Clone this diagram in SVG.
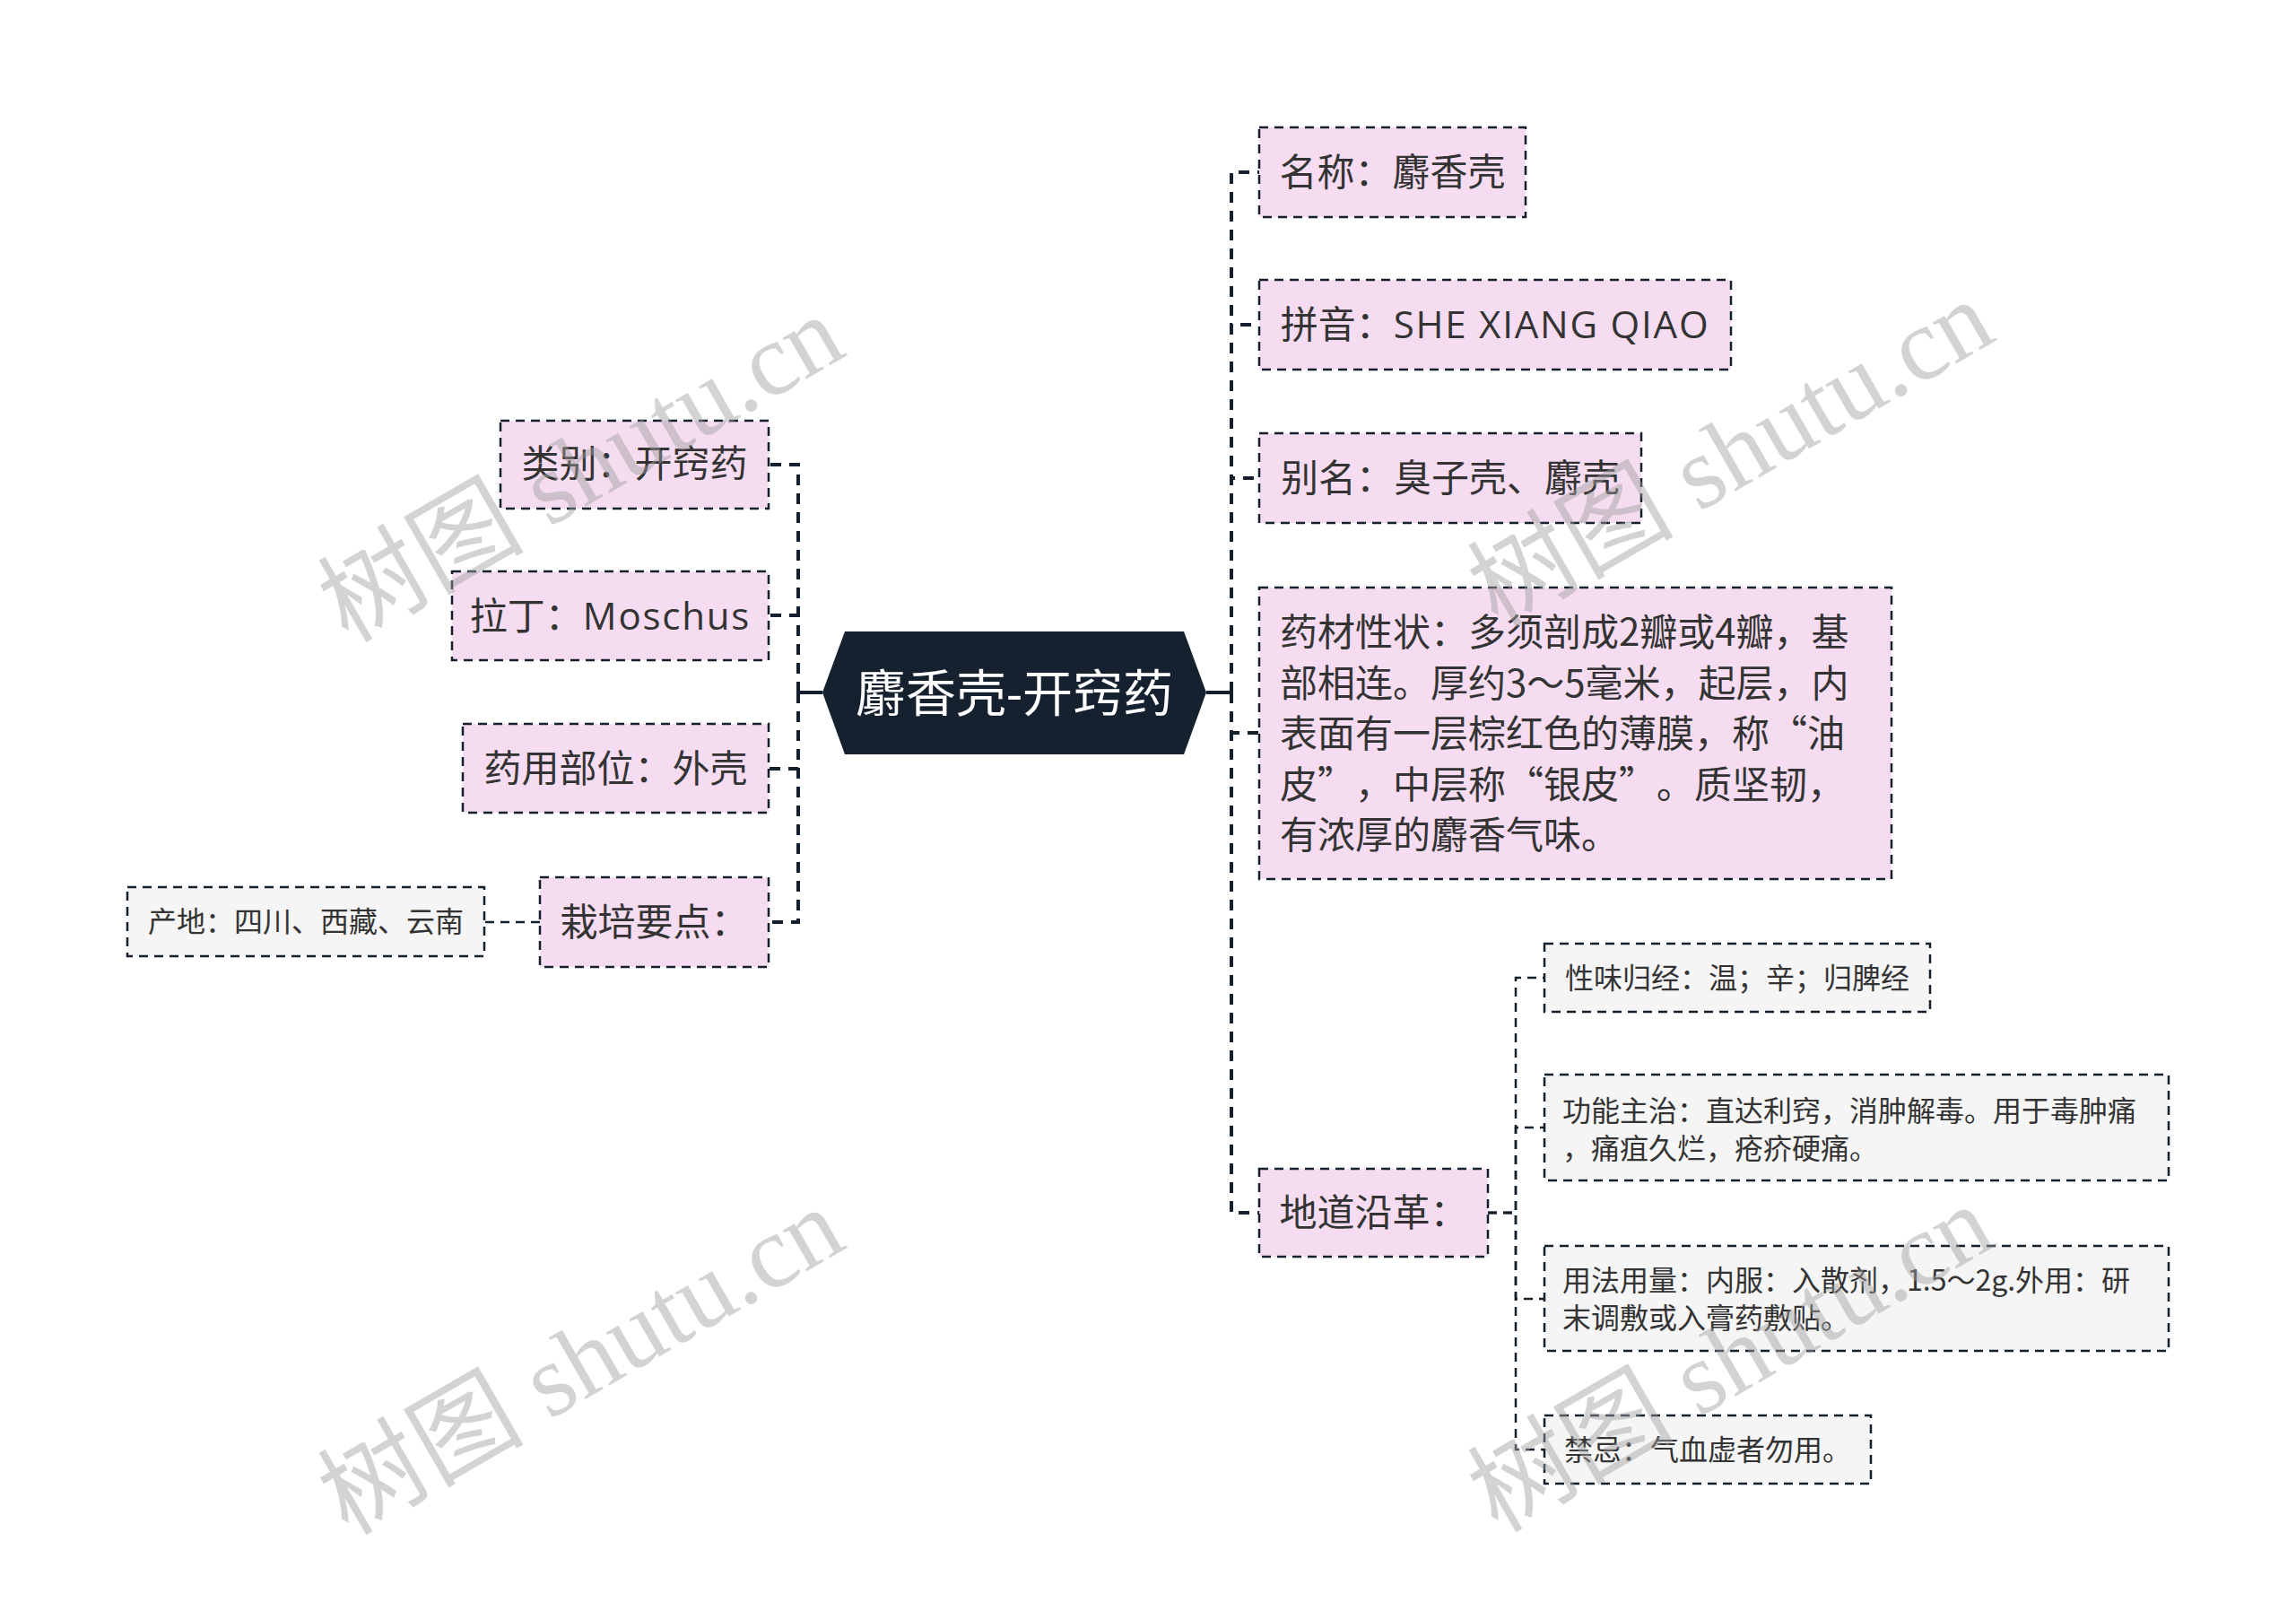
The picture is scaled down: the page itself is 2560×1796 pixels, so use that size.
<svg xmlns="http://www.w3.org/2000/svg" width="2560" height="1796" viewBox="0 0 2560 1796">
<style>
text{font-family:"Open Sans","Noto Sans CJK SC",sans-serif;fill:#333333}
.cjk{font-family:"Noto Sans CJK SC",sans-serif}
.lat{letter-spacing:1.8px}
.n1 rect{fill:#f5dcf0;stroke:#15202e;stroke-width:2.5;stroke-dasharray:10 7}
.n2 rect{fill:#f5f5f5;stroke:#15202e;stroke-width:2.5;stroke-dasharray:10 7}
.t1{font-size:42px}
.t2{font-size:32px}
.mid{text-anchor:middle}
.c1{fill:none;stroke:#15202e;stroke-width:4;stroke-dasharray:12 9}
.c2{fill:none;stroke:#15202e;stroke-width:2.5;stroke-dasharray:10 7}
.cs{fill:none;stroke:#15202e;stroke-width:4}
.wm{font-family:"Liberation Serif","Noto Sans CJK SC",serif;font-size:115px;fill:#a0a0a0;opacity:0.45;text-anchor:middle;dominant-baseline:central}
</style>
<rect x="0" y="0" width="2560" height="1796" fill="#ffffff"/>
<g id="connectors">
<path class="cs" d="M917 772 H890"/>
<path class="c1" d="M890 772 V518 H857"/>
<path class="c1" d="M890 772 V686 H857"/>
<path class="c1" d="M890 772 V857 H857"/>
<path class="c1" d="M890 772 V1028 H857"/>
<path class="c2" d="M602 1028 H540"/>
<path class="cs" d="M1345 772 H1373"/>
<path class="c1" d="M1373 772 V192 H1404"/>
<path class="c1" d="M1373 772 V362 H1404"/>
<path class="c1" d="M1373 772 V533 H1404"/>
<path class="c1" d="M1373 772 V817 H1404"/>
<path class="c1" d="M1373 772 V1352 H1404"/>
<path class="c2" d="M1659 1352 H1690 V1090 H1722"/>
<path class="c2" d="M1659 1352 H1690 V1257 H1722"/>
<path class="c2" d="M1659 1352 H1690 V1448 H1722"/>
<path class="c2" d="M1659 1352 H1690 V1616 H1722"/>
</g>
<g id="root">
<polygon points="942,704 1320,704 1345,772 1320,841 942,841 917,772" fill="#16212f"/>
<text x="1131" y="793" class="mid" style="font-size:56px;fill:#ffffff">麝香壳-开窍药</text>
</g>
<g id="n-leibie" class="n1"><rect x="558" y="469" width="299" height="98"/><text class="t1 mid" x="707.5" y="532">类别：开窍药</text></g>
<g id="n-lading" class="n1"><rect x="504" y="637" width="353" height="99"/><text class="t1 mid" x="680.5" y="701.5">拉丁：<tspan class="lat">Moschus</tspan></text></g>
<g id="n-yaoyong" class="n1"><rect x="516" y="807" width="341" height="99"/><text class="t1 mid" x="686.5" y="871.5">药用部位：外壳</text></g>
<g id="n-zaipei" class="n1"><rect x="602" y="978" width="255" height="100"/><text class="t1 mid" x="729.5" y="1043">栽培要点：</text></g>
<g id="n-chandi" class="n2"><rect x="142" y="989" width="398" height="77"/><text class="t2 mid" x="341" y="1039">产地：四川、西藏、云南</text></g>
<g id="n-mingcheng" class="n1"><rect x="1404" y="142" width="297" height="100"/><text class="t1 mid" x="1552.5" y="207">名称：麝香壳</text></g>
<g id="n-pinyin" class="n1"><rect x="1404" y="312" width="526" height="100"/><text class="t1 mid" x="1667" y="377">拼音：<tspan class="lat">SHE XIANG QIAO</tspan></text></g>
<g id="n-bieming" class="n1"><rect x="1404" y="483" width="426" height="100"/><text class="t1 mid" x="1617" y="548">别名：臭子壳、麝壳</text></g>
<g id="n-yaocai" class="n1"><rect x="1404" y="655" width="705" height="325"/>
<text class="t1 cjk" x="1427" y="720">药材性状：多须剖成2瓣或4瓣，基</text>
<text class="t1 cjk" x="1427" y="776.5">部相连。厚约3～5毫米，起层，内</text>
<text class="t1 cjk" x="1427 1469 1511 1553 1595 1637 1679 1721 1763 1805 1847 1889 1931 1973 2015" y="833">表面有一层棕红色的薄膜，称“油</text>
<text class="t1 cjk" x="1427 1469 1511 1553 1595 1637 1679 1721 1763 1805 1847 1889 1931 1973 2015" y="889.5">皮”，中层称“银皮”。质坚韧，</text>
<text class="t1 cjk" x="1427" y="946">有浓厚的麝香气味。</text>
</g>
<g id="n-didao" class="n1"><rect x="1404" y="1303" width="255" height="98"/><text class="t1 mid" x="1531.5" y="1367">地道沿革：</text></g>
<g id="n-xingwei" class="n2"><rect x="1722" y="1052" width="430" height="76"/><text class="t2 mid" x="1937" y="1101.5">性味归经：温；辛；归脾经</text></g>
<g id="n-gongneng" class="n2"><rect x="1722" y="1198" width="696" height="118"/>
<text class="t2 cjk" x="1742" y="1250">功能主治：直达利窍，消肿解毒。用于毒肿痛</text>
<text class="t2 cjk" x="1742" y="1292">，痛疽久烂，疮疥硬痛。</text>
</g>
<g id="n-yongfa" class="n2"><rect x="1722" y="1389" width="696" height="117"/>
<text class="t2 cjk" x="1742" y="1439">用法用量：内服：入散剂，1.5～2g.外用：研</text>
<text class="t2 cjk" x="1742" y="1481">末调敷或入膏药敷贴。</text>
</g>
<g id="n-jinji" class="n2"><rect x="1722" y="1578" width="364" height="76"/><text class="t2 mid" x="1904" y="1627.5">禁忌：气血虚者勿用。</text></g>
<g id="watermarks">
<text class="wm" x="648" y="523" transform="rotate(-30 648 523)">树图 shutu.cn</text>
<text class="wm" x="1930" y="506" transform="rotate(-30 1930 506)">树图 shutu.cn</text>
<text class="wm" x="648" y="1518" transform="rotate(-30 648 1518)">树图 shutu.cn</text>
<text class="wm" x="1930" y="1515" transform="rotate(-30 1930 1515)">树图 shutu.cn</text>
</g>
</svg>
